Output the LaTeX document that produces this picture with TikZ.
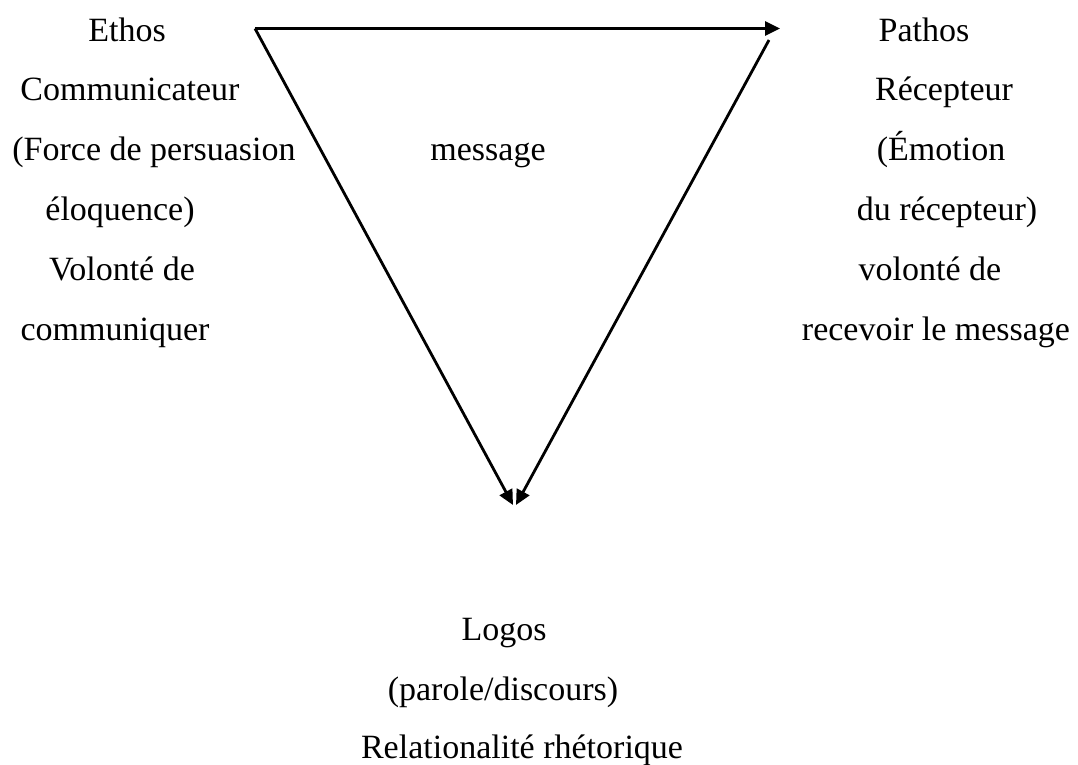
\documentclass[tikz,border=0pt]{standalone}
\usepackage{fontspec}
\setmainfont{Liberation Serif}
\usetikzlibrary{arrows.meta}
\begin{document}
\begin{tikzpicture}[x=1pt,y=-1pt,
  lbl/.style={anchor=base,inner sep=0pt,font=\fontsize{34}{40}\selectfont},
  edge/.style={line width=2.8pt,-{Triangle[length=15pt,width=14pt]}}]
\useasboundingbox (0,0) rectangle (1078,765);

% corners of the triangle
\coordinate (ethosV) at (255,28.5);
\coordinate (pathosV) at (780,28.5);
\coordinate (pathosS) at (769,40);
\coordinate (logosL) at (513,505);
\coordinate (logosR) at (516,505);

% Ethos column
\node[lbl] (ethos) at (127,42) {Ethos};
\node[lbl] (comm) at (130,101) {Communicateur};
\node[lbl] (force) at (154,160) {(Force de persuasion};
\node[lbl] (eloq) at (120,220) {éloquence)};
\node[lbl] (volE) at (122,280) {Volonté de};
\node[lbl] (commq) at (115,340) {communiquer};

% Pathos column
\node[lbl] (pathos) at (924,42) {Pathos};
\node[lbl] (recep) at (944,101) {Récepteur};
\node[lbl] (emo) at (941,160) {(Émotion};
\node[lbl] (durec) at (947,220) {du récepteur)};
\node[lbl] (volP) at (930,280) {volonté de};
\node[lbl] (recv) at (936,340) {recevoir le message};

% centre
\node[lbl] (msg) at (488,160) {message};

% Logos column
\node[lbl] (logos) at (504,640) {Logos};
\node[lbl] (parole) at (503,700) {(parole/discours)};
\node[lbl] (relat) at (522,758) {Relationalité rhétorique};

% connectors
\draw[edge] (ethosV) -- (pathosV);
\draw[edge] (ethosV) -- (logosL);
\draw[edge] (pathosS) -- (logosR);
\end{tikzpicture}
\end{document}
